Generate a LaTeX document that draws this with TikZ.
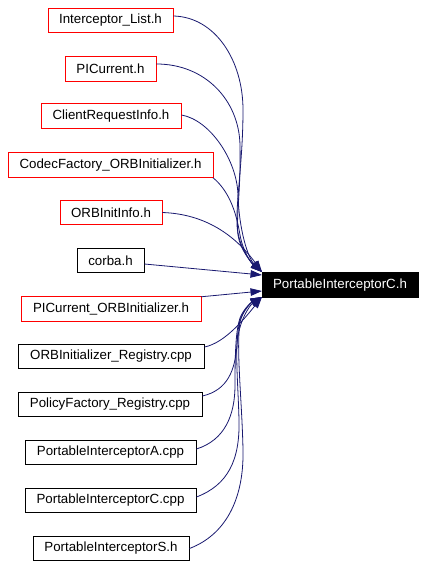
\documentclass[tikz,border=0pt]{standalone}
\usepackage{fontspec}
\setmainfont{Liberation Sans}
\usetikzlibrary{arrows.meta}
\definecolor{edgeblue}{RGB}{25,25,112}
\begin{document}
\begin{tikzpicture}[x=1pt,y=-1pt,
  filebox/.style={draw=#1, line width=0.9pt, fill=white, inner sep=0pt, minimum height=24.5pt,
    font=\fontsize{13.3}{16}\selectfont},
  edge/.style={draw=edgeblue, line width=0.8pt, -{Triangle[length=11.5pt,width=7.5pt]}}]
\useasboundingbox (0,0) rectangle (426,567);
\fill[white] (0,0) rectangle (426,567);
\node[filebox=red, minimum width=125pt] (n1) at (110.5,20.5) {Interceptor\_List.h};
\node[filebox=red, minimum width=91pt] (n2) at (110.5,69) {PICurrent.h};
\node[filebox=red, minimum width=140pt] (n3) at (111,116) {ClientRequestInfo.h};
\node[filebox=red, minimum width=205pt] (n4) at (110.5,165) {CodecFactory\_ORBInitializer.h};
\node[filebox=red, minimum width=102pt] (n5) at (111,212.5) {ORBInitInfo.h};
\node[filebox=black, minimum width=67pt] (n6) at (110.5,260.5) {corba.h};
\node[filebox=red, minimum width=180pt] (n7) at (111,309) {PICurrent\_ORBInitializer.h};
\node[filebox=black, minimum width=186pt] (n8) at (111,356.5) {ORBInitializer\_Registry.cpp};
\node[filebox=black, minimum width=184pt] (n9) at (110,404.5) {PolicyFactory\_Registry.cpp};
\node[filebox=black, minimum width=171pt] (n10) at (110.5,452.5) {PortableInterceptorA.cpp};
\node[filebox=black, minimum width=171pt] (n11) at (110.5,500.5) {PortableInterceptorC.cpp};
\node[filebox=black, minimum width=156pt] (n12) at (111,548.5) {PortableInterceptorS.h};
\node[filebox=black, fill=black, text=white, minimum width=156pt] (t) at (340,285) {PortableInterceptorC.h};

\coordinate (tu) at (262,272);
\coordinate (tc) at (262,275);
\coordinate (tp) at (262,291);
\coordinate (tl) at (262,297);

\draw[edge] ([yshift=4.5pt]n1.east) .. controls (215,17) and (243,60) .. (243,110)
  .. controls (243,160) and (236,200) .. (237,225) .. controls (238,245) and (250,262) .. (tu);
\draw[edge] ([yshift=5pt]n2.east) .. controls (205,64) and (239,100) .. (240,145)
  .. controls (241,190) and (236,215) .. (238,235) .. controls (240,250) and (252,263) .. (tu);
\draw[edge] ([yshift=1pt]n3.east) .. controls (210,120) and (237,160) .. (238,195)
  .. controls (239,230) and (248,258) .. (tu);
\draw[edge] ([xshift=-0.5pt]n4.south east) .. controls (228,190) and (236,210) .. (240,235)
  .. controls (243,252) and (252,264) .. (tu);
\draw[edge] (n5.east) .. controls (205,214) and (235,235) .. (tu);
\draw[edge] ([yshift=-3.5pt]n6.east) -- (tc);
\draw[edge] ([xshift=-0.5pt,yshift=-0.5pt]n7.north east) -- (tp);
\draw[edge] ([yshift=9.5pt]n8.east) .. controls (225,343) and (245,318) .. (tl);
\draw[edge] ([yshift=8.5pt]n9.east) .. controls (228,390) and (235,370) .. (237,345)
  .. controls (238,322) and (250,305) .. (tl);
\draw[edge] ([yshift=3.5pt]n10.east) .. controls (225,440) and (235,415) .. (235,385)
  .. controls (235,350) and (236,330) .. (240,318) .. controls (244,308) and (252,302) .. (tl);
\draw[edge] ([yshift=3.5pt]n11.east) .. controls (228,485) and (240,460) .. (239,420)
  .. controls (238,380) and (234,345) .. (240,320) .. controls (244,308) and (252,302) .. (tl);
\draw[edge] (n12.east) .. controls (225,535) and (244,500) .. (243,450)
  .. controls (242,400) and (236,350) .. (240,322) .. controls (243,310) and (252,302) .. (tl);
\end{tikzpicture}
\end{document}
